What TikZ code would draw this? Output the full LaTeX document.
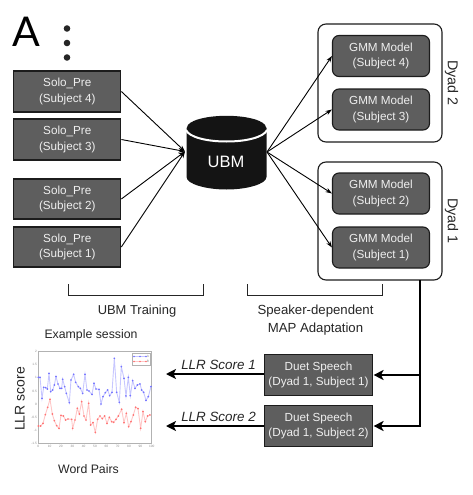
\documentclass[tikz,border=0pt]{standalone}
\usepackage{fontspec}
\setmainfont{Liberation Sans}
\newfontfamily\headf{Lato}
\usetikzlibrary{arrows.meta,calc}
\definecolor{boxfill}{HTML}{5E5E5E}
\definecolor{boxline}{HTML}{1C1C1C}
\definecolor{inktext}{HTML}{262626}
\definecolor{boxtext}{HTML}{EFEFEF}
\newcommand{\fs}[2]{\fontsize{#1}{#2}\selectfont}
\tikzset{
  solobox/.style={draw=boxline,fill=boxfill,line width=1.1pt,minimum width=107pt,minimum height=40pt,inner sep=0pt,text=boxtext,align=center,font=\fs{11.7}{15.7}},
  gmmbox/.style={solobox,rounded corners=6.5pt,minimum width=97pt,minimum height=41pt},
  duetbox/.style={solobox,minimum width=108pt,minimum height=41pt},
  dyadbox/.style={draw=boxline,line width=1.1pt,rounded corners=8pt,fill=white,minimum width=124pt,minimum height=118pt,inner sep=0pt},
  thin arrow/.style={draw=black,line width=.9pt,-{Stealth[length=6.5pt,width=4.5pt]}},
  thick arrow/.style={draw=black,line width=1.9pt,-{Stealth[length=10pt,width=10pt,inset=2.5pt]}},
  bracket/.style={draw=inktext,line width=1pt},
  label/.style={text=inktext,inner sep=0pt,align=center},
  tick text/.style={text=black!45,inner sep=0pt,font=\fs{3.2}{4}},
  blue trace/.style={draw=blue!22,line width=.9pt,mark=*,mark size=.35pt,mark options={draw=blue!55,fill=blue!55}},
  red trace/.style={draw=red!22,line width=.9pt,mark=*,mark size=.35pt,mark options={draw=red!55,fill=red!55}},
}
\begin{document}
\begin{tikzpicture}[x=1pt,y=-1pt]
\useasboundingbox (0,0) rectangle (472,495);
% heading
\node[text=black,inner sep=0pt,anchor=base west,font=\headf\fs{41}{41}] (panel) at (12.5,47) {A};
\fill[black!85] (67,28.5) circle (3.3pt) (67,43) circle (3.3pt) (67,57.5) circle (3.3pt);
% left boxes
\node[solobox,minimum height=41pt] (s4) at (67.3,91.5) {Solo\_Pre\\(Subject 4)};
\node[solobox,minimum height=41pt] (s3) at (67.3,139.5) {Solo\_Pre\\(Subject 3)};
\node[solobox] (s2) at (67.3,199) {Solo\_Pre\\(Subject 2)};
\node[solobox] (s1) at (67.3,247) {Solo\_Pre\\(Subject 1)};
% UBM cylinder
\fill[black!92] (186.5,127.5) -- (186.5,177) .. controls (186.5,184) and (206,189.5) .. (226.5,189.5) .. controls (247,189.5) and (266.5,184) .. (266.5,177) -- (266.5,127.5) -- cycle;
\draw[white,line width=2pt] (186,130) .. controls (189,137) and (206,141.5) .. (226.5,141.5) .. controls (247,141.5) and (264,137) .. (267,130);
\fill[black!92] (226.5,127.5) ellipse [x radius=39.5pt,y radius=11.7pt];
\node[text=white,inner sep=0pt,font=\fs{16.5}{18}] (ubm) at (226,162) {UBM};
\coordinate (ubmin) at (185,151.5);
\coordinate (ubmout) at (267,152);
\foreach \n in {s4,s3,s2,s1} \draw[thin arrow] (\n.east) -- (ubmin);
% dyads
\node[dyadbox] (dyad2) at (380,83) {};
\node[dyadbox] (dyad1) at (380,221) {};
\node[gmmbox] (g4) at (381,56) {GMM Model\\(Subject 4)};
\node[gmmbox] (g3) at (381,109.5) {GMM Model\\(Subject 3)};
\node[gmmbox] (g2) at (381,193.5) {GMM Model\\(Subject 2)};
\node[gmmbox] (g1) at (381,247.5) {GMM Model\\(Subject 1)};
\node[label,rotate=-90,font=\fs{14.3}{16}] (dyadtwo) at (451.5,83) {Dyad 2};
\node[label,rotate=-90,font=\fs{14.3}{16}] (dyadone) at (451.5,221) {Dyad 1};
\foreach \n in {g4,g3,g2,g1} \draw[thin arrow] (ubmout) -- (\n.west);
% brackets
\coordinate (bl1) at (68,284); \coordinate (bl2) at (68,295.5);
\coordinate (bl3) at (203.5,295.5); \coordinate (bl4) at (203.5,284);
\draw[bracket] (bl1) -- (bl2) -- (bl3) -- (bl4);
\coordinate (br1) at (247,284); \coordinate (br2) at (247,295.5);
\coordinate (br3) at (382.5,295.5); \coordinate (br4) at (382.5,284);
\draw[bracket] (br1) -- (br2) -- (br3) -- (br4);
\node[label,font=\fs{12.9}{15}] (ubmtrain) at (137,311) {UBM Training};
\node[label,font=\fs{13.2}{18.5}] (spk) at (315.5,320) {Speaker-dependent\\MAP Adaptation};
% duet
\node[duetbox] (d1) at (318.5,375) {Duet Speech\\(Dyad 1, Subject 1)};
\node[duetbox] (d2) at (318.5,426) {Duet Speech\\(Dyad 1, Subject 2)};
\coordinate (droptop) at (420,280);
\coordinate (dropmid) at (420,375);
\draw[thick arrow,shorten >=.5pt] (droptop) |- (d2.east);
\draw[thick arrow,shorten >=.5pt] (dropmid) -- (d1.east);
\coordinate (plot1) at (166,374);
\coordinate (plot2) at (166,426);
\draw[thick arrow] (d1.west |- plot1) -- (plot1);
\draw[thick arrow] (d2.west) -- (plot2);
\node[label,font=\itshape\fs{13.4}{15}] (score1) at (218.5,364.5) {LLR Score 1};
\node[label,font=\itshape\fs{13.4}{15}] (score2) at (218.5,417) {LLR Score 2};
% chart labels
\node[label,font=\fs{12.3}{14}] (example) at (91,335) {Example session};
\node[label,rotate=90,font=\fs{14}{16}] (llr) at (20,399) {LLR score};
\node[label,font=\fs{12.3}{14}] (word) at (88.5,469) {Word Pairs};
% chart
\draw[black!30,line width=.7pt] (38.3,351.7) rectangle (151.7,443.3);
\foreach \lab [count=\i from 0] in {2,1.5,1,0.5,0,-0.5,-1,-1.5}
  \node[tick text,anchor=east] (yt\i) at (37,351.7+13.09*\i) {\lab};
\foreach \lab [count=\i from 0] in {0,10,20,30,40,50,60,70,80,90,100}
  \node[tick text] (xt\i) at (38.3+11.34*\i,446.5) {\lab};
\begin{scope}[x=.3333pt,y=-.3333pt,yshift=-330pt]
\draw[blue trace] plot coordinates {(115,142)(120,142)(126,205)(131,172)(137,173)(142,177)(147,130)(152,185)(158,180)(163,165)(168,140)(174,162)(180,175)(185,175)(188,148)(194,170)(199,190)(208,218)(213,150)(221,133)(227,157)(235,170)(241,175)(248,190)(255,133)(261,180)(267,183)(276,193)(282,160)(288,177)(297,178)(303,222)(309,200)(316,188)(323,180)(329,197)(336,187)(343,85)(350,187)(358,217)(364,110)(372,145)(378,198)(385,142)(391,197)(398,152)(405,175)(412,165)(420,162)(425,180)(431,187)(438,211)(445,200)(453,170)};
\draw[red trace] plot coordinates {(115,288)(122,288)(129,280)(136,254)(143,232)(150,208)(157,252)(163,272)(170,287)(177,295)(183,256)(190,258)(197,270)(204,267)(215,268)(218,295)(225,270)(232,235)(238,252)(245,215)(252,258)(258,270)(266,220)(272,285)(279,278)(286,307)(293,268)(300,258)(307,266)(314,258)(321,280)(328,262)(335,275)(341,277)(348,268)(355,258)(365,238)(372,278)(379,250)(386,290)(393,275)(400,255)(407,232)(414,236)(422,295)(429,245)(436,275)(443,258)(450,255)};
\end{scope}
% legend
\draw[black!30,line width=.5pt,fill=white] (132.7,353.4) rectangle (150.2,364.8);
\draw[blue trace] plot coordinates {(134,356.5)(140,356.5)(146,356.5)};
\draw[red trace] plot coordinates {(134,361.5)(140,361.5)(146,361.5)};
\node[tick text] (lega) at (148,356.5) {A};
\node[tick text] (legb) at (148,361.5) {B};
\end{tikzpicture}
\end{document}
